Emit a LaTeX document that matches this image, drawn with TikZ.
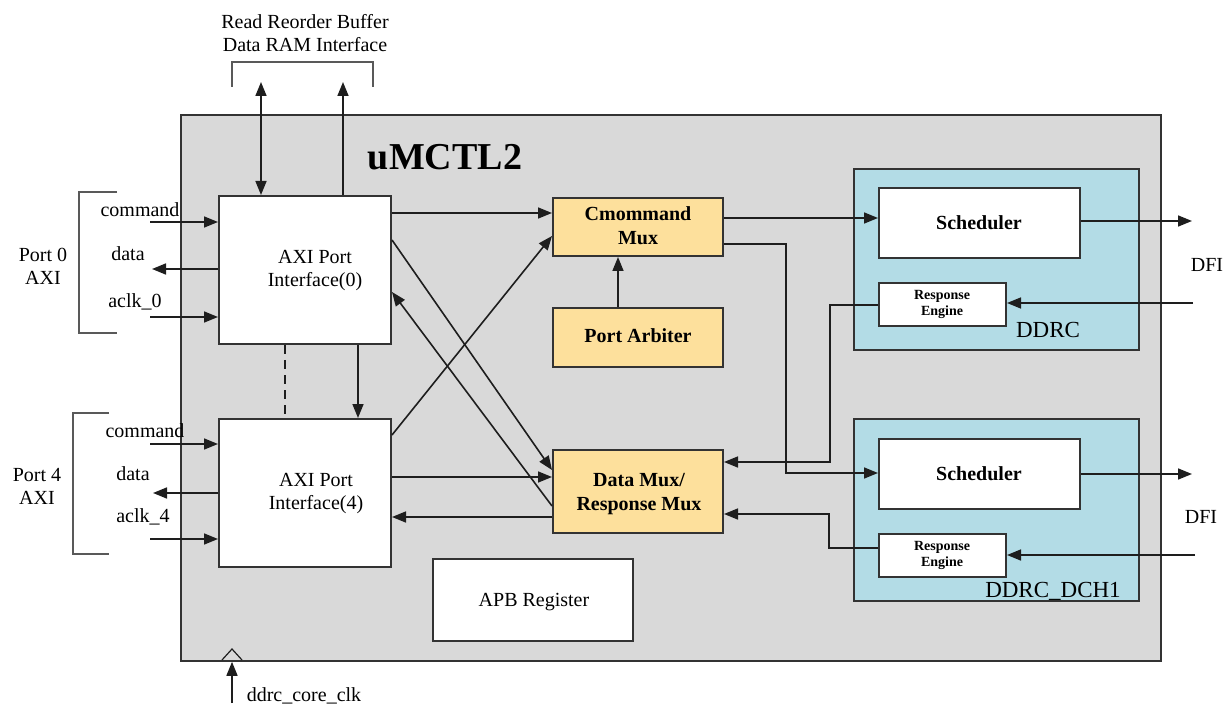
\documentclass[tikz,border=0pt]{standalone}
\usepackage{fontspec}
\setmainfont{Liberation Serif}
\usetikzlibrary{arrows.meta,calc}
\definecolor{graybg}{HTML}{D9D9D9}
\definecolor{muxyel}{HTML}{FDE09C}
\definecolor{ddrcblue}{HTML}{B3DCE6}
\definecolor{edgec}{HTML}{333333}
\definecolor{linec}{HTML}{1E1E1E}
\begin{document}
\begin{tikzpicture}[x=1pt,y=-1pt,
  tip/.tip={Triangle[length=14pt,width=11pt]},
  arr/.style={-tip, line width=1.6pt, draw=linec},
  darr/.style={tip-tip, line width=1.6pt, draw=linec},
  ln/.style={line width=1.6pt, draw=linec},
  blk/.style={draw=edgec, line width=2pt, anchor=north west, inner sep=0pt},
  wbox/.style={blk, fill=white},
  ybox/.style={blk, fill=muxyel},
  bbox/.style={blk, fill=ddrcblue},
  txt/.style={font=\fontsize{20}{23}\selectfont, align=center, inner sep=0pt},
  ltxt/.style={font=\fontsize{23}{25}\selectfont, align=center, inner sep=0pt},
  btxt/.style={font=\fontsize{20}{24}\selectfont\bfseries, align=center, inner sep=0pt},
  stxt/.style={font=\fontsize{14}{16}\selectfont\bfseries, align=center, inner sep=0pt},
  brk/.style={line width=1.3pt, draw=black!65}
]
\useasboundingbox (0,0) rectangle (1231,708);

% main block
\node[blk, fill=graybg, line width=1.8pt, minimum width=980, minimum height=546] (umctl) at (180,114) {};
\node[font=\fontsize{38}{40}\selectfont\bfseries, inner sep=0pt] (title) at (445,157) {uMCTL2};

% AXI port interfaces
\node[wbox, minimum width=172, minimum height=148] (axi0) at (218,195) {};
\node[txt] (axi0t) at (315,271) {AXI Port\\Interface(0)};
\node[wbox, minimum width=172, minimum height=148] (axi4) at (218,418) {};
\node[txt] (axi4t) at (316,494) {AXI Port\\Interface(4)};

% muxes
\node[ybox, minimum width=170, minimum height=58] (cm) at (552,197) {};
\node[btxt] (cmt) at (638,226) {Cmommand\\Mux};
\node[ybox, minimum width=170, minimum height=59] (pa) at (552,307) {};
\node[btxt] (pat) at (638,336) {Port Arbiter};
\node[ybox, minimum width=170, minimum height=83] (dm) at (552,449) {};
\node[btxt] (dmt) at (639,494) {Data Mux/\\Response Mux};

% APB
\node[wbox, minimum width=200, minimum height=82] (apb) at (432,558) {};
\node[txt] (apbt) at (534,602) {APB Register};

% DDRC blocks
\node[bbox, minimum width=285, minimum height=181] (ddrc) at (853,168) {};
\node[wbox, minimum width=201, minimum height=70] (sch1) at (878,187) {};
\node[btxt] (sch1t) at (979,223) {Scheduler};
\node[wbox, minimum width=127, minimum height=43] (re1) at (878,282) {};
\node[stxt] (re1t) at (942,304) {Response\\Engine};
\node[ltxt] (ddrcl) at (1048,330) {DDRC};

\node[bbox, minimum width=285, minimum height=182] (dch) at (853,418) {};
\node[wbox, minimum width=201, minimum height=70] (sch2) at (878,438) {};
\node[btxt] (sch2t) at (979,474) {Scheduler};
\node[wbox, minimum width=127, minimum height=43] (re2) at (878,533) {};
\node[stxt] (re2t) at (942,555) {Response\\Engine};
\node[ltxt] (dchl) at (1053,591) {DDRC\_DCH1};

% top bracket
\node[txt] (rrb) at (305,33) {Read Reorder Buffer\\Data RAM Interface};
\draw[brk] (232,87) -- (232,62) -- (373,62) -- (373,87);
\coordinate (rrb1) at (261,82);
\coordinate (rrb2) at (343,82);
\draw[darr] (rrb1) -- (rrb1 |- axi0.north);
\draw[arr] (axi0.north -| rrb2) -- (rrb2);

% axi0 to axi4
\draw[ln, dashed, dash pattern=on 9pt off 6pt, line width=1.3pt] (axi0.south -| 285,0) -- (axi4.north -| 285,0);
\draw[arr] (axi0.south -| 358,0) -- (axi4.north -| 358,0);

% Port 0 side
\draw[brk] (117,192) -- (79,192) -- (79,333) -- (117,333);
\node[txt] (p0) at (43,266) {Port 0\\AXI};
\node[txt] (p0c) at (140,210) {command};
\node[txt] (p0d) at (128,254) {data};
\node[txt] (p0a) at (135,302) {aclk\_0};
\coordinate (p0cs) at (150,222);
\coordinate (p0ds) at (152,269);
\coordinate (p0as) at (150,317);
\draw[arr] (p0cs) -- (axi0.west |- p0cs);
\draw[arr] (axi0.west |- p0ds) -- (p0ds);
\draw[arr] (p0as) -- (axi0.west |- p0as);

% Port 4 side
\draw[brk] (109,413) -- (73,413) -- (73,554) -- (109,554);
\node[txt] (p4) at (37,486) {Port 4\\AXI};
\node[txt] (p4c) at (145,431) {command};
\node[txt] (p4d) at (133,474) {data};
\node[txt] (p4a) at (143,517) {aclk\_4};
\coordinate (p4cs) at (150,444);
\coordinate (p4ds) at (153,493);
\coordinate (p4as) at (150,539);
\draw[arr] (p4cs) -- (axi4.west |- p4cs);
\draw[arr] (axi4.west |- p4ds) -- (p4ds);
\draw[arr] (p4as) -- (axi4.west |- p4as);

% AXI <-> mux connections
\draw[arr] (axi0.east |- 0,213) -- (cm.west |- 0,213);
\draw[arr] (axi0.east |- 0,240) -- (dm.west |- 0,470);
\draw[arr] (dm.west |- 0,506) -- (axi0.east |- 0,292);
\draw[arr] (axi4.east |- 0,435) -- (cm.west |- 0,236);
\draw[arr] (axi4.east |- 0,477) -- (dm.west |- 0,477);
\draw[arr] (dm.west |- 0,517) -- (axi4.east |- 0,517);
\draw[arr] (pa.north -| 618,0) -- (cm.south -| 618,0);

% mux <-> DDRC
\draw[arr] (cm.east |- 0,218) -- (sch1.west |- 0,218);
\draw[arr] (cm.east |- 0,244) -- (786,244) -- (786,473) -- (sch2.west |- 0,473);
\draw[arr] (re1.west |- 0,305) -- (830,305) -- (830,462) -- (dm.east |- 0,462);
\draw[arr] (re2.west |- 0,548) -- (829,548) -- (829,514) -- (dm.east |- 0,514);

% DFI
\coordinate (dfo1) at (1192,221);
\coordinate (dfi1) at (1193,303);
\coordinate (dfo2) at (1192,474);
\coordinate (dfi2) at (1195,555);
\draw[arr] (sch1.east |- dfo1) -- (dfo1);
\draw[arr] (dfi1) -- (re1.east |- dfi1);
\draw[arr] (sch2.east |- dfo2) -- (dfo2);
\draw[arr] (dfi2) -- (re2.east |- dfi2);
\node[txt] (dfil1) at (1207,265) {DFI};
\node[txt] (dfil2) at (1201,517) {DFI};

% clock
\draw[ln, line width=1.2pt] (222,660) -- (232,649) -- (242,660);
\coordinate (clks) at (232,703);
\draw[arr] (clks) -- (umctl.south -| clks);
\node[txt] (clkl) at (304,696) {ddrc\_core\_clk};
\end{tikzpicture}
\end{document}
